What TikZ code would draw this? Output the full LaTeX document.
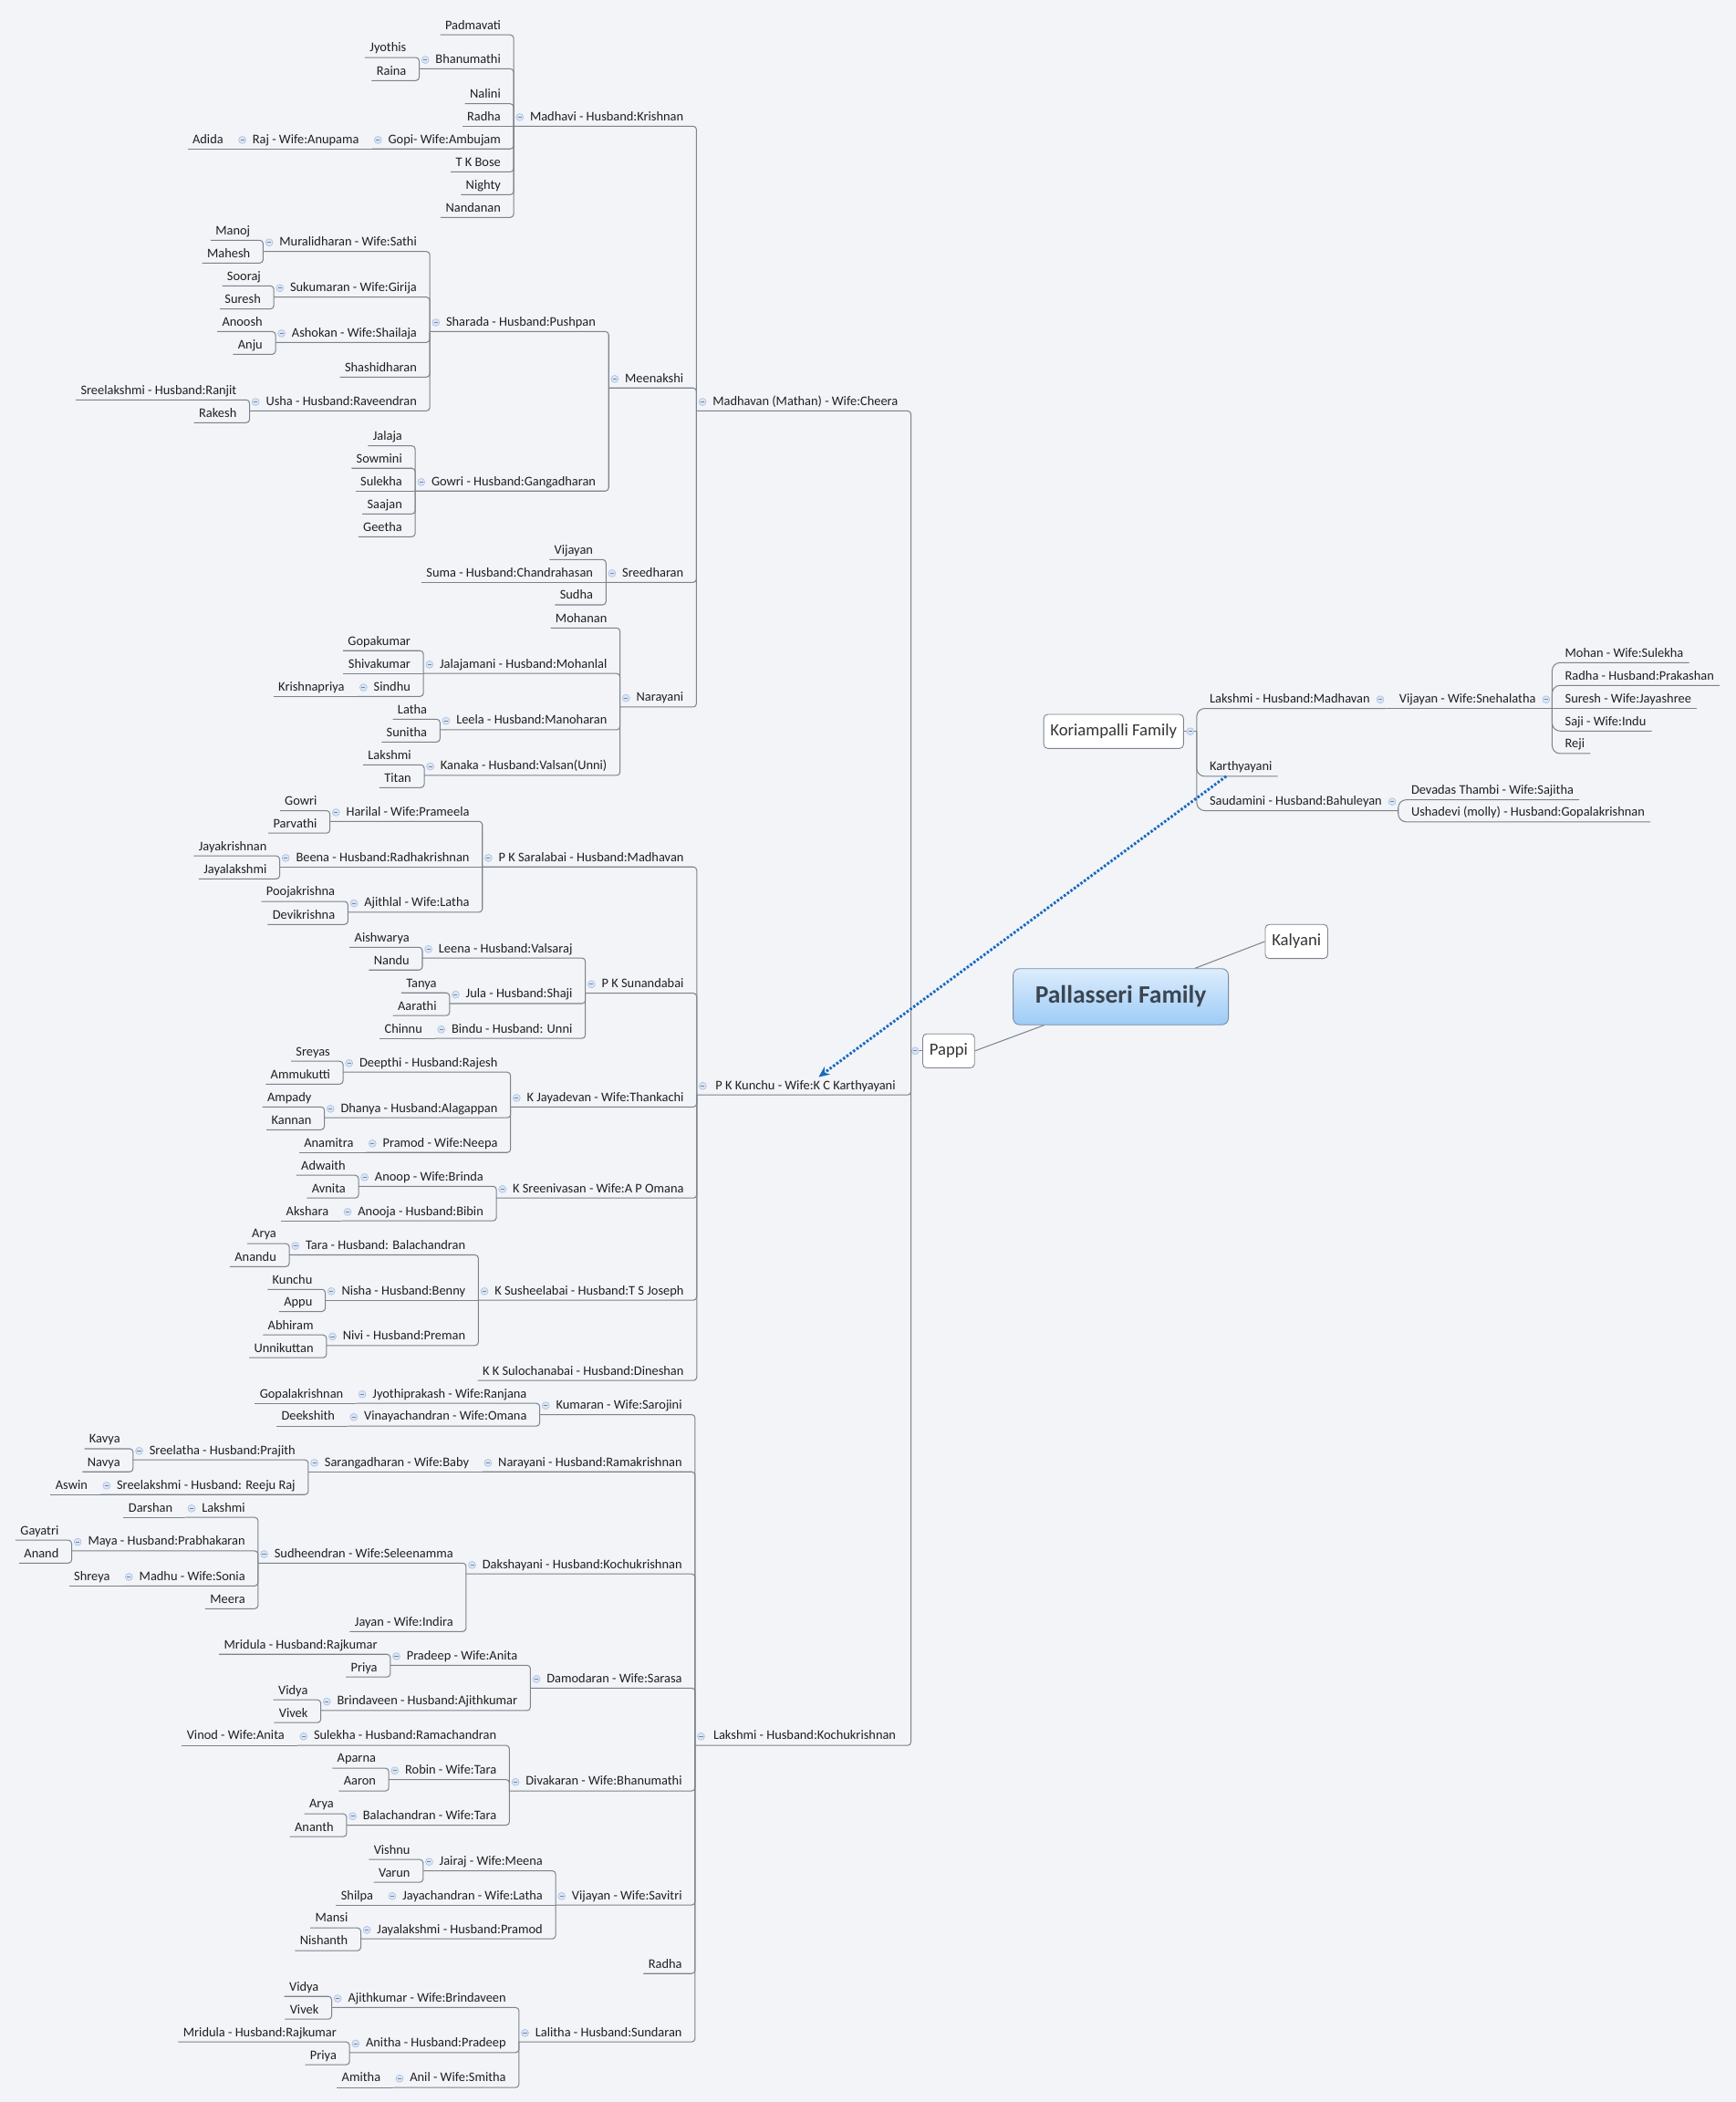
\documentclass[tikz,border=0pt]{standalone}
\usepackage{fontspec}
\setmainfont{Carlito}
\usetikzlibrary{arrows.meta}

\definecolor{bgc}{HTML}{F2F4F8}
\definecolor{ln}{HTML}{7D838A}
\definecolor{txt}{HTML}{1F1F1F}
\definecolor{togf}{HTML}{DAE5F5}
\definecolor{togd}{HTML}{A6BEE2}
\definecolor{relc}{HTML}{1769C2}
\definecolor{roottop}{HTML}{DDEDFD}
\definecolor{rootbot}{HTML}{9DCBF6}
\definecolor{rootdraw}{HTML}{7B8B9B}
\definecolor{roottext}{HTML}{3B4651}

\begin{document}
\begin{tikzpicture}[x=1pt, y=-1pt,
  link/.style={draw=ln, line width=0.7pt, rounded corners=2.5pt},
  rlink/.style={draw=ln, line width=0.7pt, rounded corners=6pt},
  spoke/.style={draw=ln, line width=0.7pt},
  toggle/.style={circle, draw=togd, fill=togf, line width=0.4pt, inner sep=0pt,
    minimum size=5.4pt, anchor=center, text height=0pt, text depth=0pt,
    execute at begin node={}, execute at end node={},
    path picture={\draw[togd!70!black, line width=0.5pt]
      ([xshift=-1.4pt]path picture bounding box.center) --
      ([xshift=1.4pt]path picture bounding box.center);}},
  lbl/.style={inner xsep=0pt, inner ysep=2pt, text height=7pt, text depth=2pt,
    font=\fontsize{9.8}{11}\selectfont, text=txt},
  lk/.style={lbl, anchor=south east,
    execute at begin node={\hspace{12pt}}, execute at end node={\hspace{9.5pt}},
    append after command={node[toggle] at ([xshift=4.5pt]\tikzlastnode.west) {}}},
  lf/.style={lbl, anchor=south east,
    execute at begin node={\hspace{3.5pt}}, execute at end node={\hspace{9.5pt}}},
  rk/.style={lbl, anchor=south west,
    execute at begin node={\hspace{9.5pt}}, execute at end node={\hspace{12pt}},
    append after command={node[toggle] at ([xshift=-4.5pt]\tikzlastnode.east) {}}},
  rf/.style={lbl, anchor=south west,
    execute at begin node={\hspace{9.5pt}}, execute at end node={\hspace{4pt}}},
  topic/.style={draw=ln, fill=white, line width=0.6pt, rounded corners=3pt,
    minimum height=25.4pt, inner xsep=5pt, font=\fontsize{12.7}{14}\selectfont, text=txt!90},
  root/.style={draw=rootdraw, line width=0.6pt, rounded corners=5pt,
    top color=roottop, bottom color=rootbot, minimum width=160.6pt, minimum height=41.9pt,
    font=\bfseries\fontsize{18.7}{20}\selectfont, text=roottext},
  rel/.style={draw=relc, line width=2pt, dash pattern=on 1.7pt off 1.4pt,
    -{Stealth[length=8pt, width=7pt, inset=2.5pt]}}]

  \path[use as bounding box, fill=bgc] (0,0) rectangle (1295,1568);

  % central topic
  \node[topic] (pappi) at (707.7,783.9) {Pappi};
  \node[topic] (kal) at (967.2,702.3) {Kalyani};
  \node[root] (root) at (836.1,743.5) {Pallasseri Family};
  \draw[spoke] (root) -- (pappi.east);
  \draw[spoke] (root) -- (kal.west);

  % Pappi
  \coordinate (pbar) at ([xshift=-8.5pt]pappi.west);
  \draw[link] (pbar) -- (pappi.west);
  \node[toggle] (ptog) at ([xshift=-5.3pt]pappi.west) {};

  \node[lk] (mdn) at (pbar |- 0,306.5) {Madhavan (Mathan) - Wife:Cheera};
  \draw[link] (mdn.south west) -- (mdn.south east) -- (pbar);
  \node[lk, minimum width=159.4pt] (kun) at (pbar |- 0,816.8) {P K Kunchu - Wife:K C Karthyayani};
  \draw[link] (kun.south west) -- (kun.south east) -- (pbar);
  \node[lk, minimum width=160.7pt] (lkk) at (pbar |- 0,1302) {Lakshmi - Husband:Kochukrishnan};
  \draw[link] (lkk.south west) -- (lkk.south east) -- (pbar);

  % Madhavan
  \node[lk] (mdv) at (mdn.south west |- 0,94.1) {Madhavi - Husband:Krishnan};
  \draw[link] (mdv.south west) -- (mdv.south east) -- (mdn.south west);
  \node[lf] (pad) at (mdv.south west |- 0,26) {Padmavati};
  \draw[link] (pad.south west) -- (pad.south east) -- (mdv.south west);
  \node[lk] (bhn) at (mdv.south west |- 0,51.3) {Bhanumathi};
  \draw[link] (bhn.south west) -- (bhn.south east) -- (mdv.south west);
  \node[lf] (jyo) at (bhn.south west |- 0,42.9) {Jyothis};
  \draw[link] (jyo.south west) -- (jyo.south east) -- (bhn.south west);
  \node[lf] (rai) at (bhn.south west |- 0,60.1) {Raina};
  \draw[link] (rai.south west) -- (rai.south east) -- (bhn.south west);
  \node[lf] (nal) at (mdv.south west |- 0,77.4) {Nalini};
  \draw[link] (nal.south west) -- (nal.south east) -- (mdv.south west);
  \node[lf] (rad) at (mdv.south west) {Radha};
  \draw[link] (rad.south west) -- (mdv.south west);
  \node[lk] (gop) at (mdv.south west |- 0,111.1) {Gopi- Wife:Ambujam};
  \draw[link] (gop.south west) -- (gop.south east) -- (mdv.south west);
  \node[lk] (raj) at (gop.south west) {Raj - Wife:Anupama};
  \draw[link] (raj.south west) -- (gop.south west);
  \node[lf] (adi) at (raj.south west) {Adida};
  \draw[link] (adi.south west) -- (raj.south west);
  \node[lf] (tkb) at (mdv.south west |- 0,128.2) {T K Bose};
  \draw[link] (tkb.south west) -- (tkb.south east) -- (mdv.south west);
  \node[lf] (nig) at (mdv.south west |- 0,145.2) {Nighty};
  \draw[link] (nig.south west) -- (nig.south east) -- (mdv.south west);
  \node[lf] (nan) at (mdv.south west |- 0,162.2) {Nandanan};
  \draw[link] (nan.south west) -- (nan.south east) -- (mdv.south west);

  \node[lk] (mee) at (mdn.south west |- 0,289.4) {Meenakshi};
  \draw[link] (mee.south west) -- (mee.south east) -- (mdn.south west);
  \node[lk] (sha) at (mee.south west |- 0,247.3) {Sharada - Husband:Pushpan};
  \draw[link] (sha.south west) -- (sha.south east) -- (mee.south west);
  \node[lk] (mur) at (sha.south west |- 0,187.6) {Muralidharan - Wife:Sathi};
  \draw[link] (mur.south west) -- (mur.south east) -- (sha.south west);
  \node[lf] (mno) at (mur.south west |- 0,179.2) {Manoj};
  \draw[link] (mno.south west) -- (mno.south east) -- (mur.south west);
  \node[lf] (mhs) at (mur.south west |- 0,196.2) {Mahesh};
  \draw[link] (mhs.south west) -- (mhs.south east) -- (mur.south west);
  \node[lk] (suk) at (sha.south west |- 0,221.6) {Sukumaran - Wife:Girija};
  \draw[link] (suk.south west) -- (suk.south east) -- (sha.south west);
  \node[lf] (soo) at (suk.south west |- 0,213.2) {Sooraj};
  \draw[link] (soo.south west) -- (soo.south east) -- (suk.south west);
  \node[lf] (sur) at (suk.south west |- 0,230.5) {Suresh};
  \draw[link] (sur.south west) -- (sur.south east) -- (suk.south west);
  \node[lk] (ask) at (sha.south west |- 0,255.4) {Ashokan - Wife:Shailaja};
  \draw[link] (ask.south west) -- (ask.south east) -- (sha.south west);
  \node[lf] (ano) at (ask.south west |- 0,247.3) {Anoosh};
  \draw[link] (ano.south west) -- (ano.south east) -- (ask.south west);
  \node[lf] (anj) at (ask.south west |- 0,264.3) {Anju};
  \draw[link] (anj.south west) -- (anj.south east) -- (ask.south west);
  \node[lf] (shd) at (sha.south west |- 0,281.3) {Shashidharan};
  \draw[link] (shd.south west) -- (shd.south east) -- (sha.south west);
  \node[lk] (ush) at (sha.south west |- 0,306.5) {Usha - Husband:Raveendran};
  \draw[link] (ush.south west) -- (ush.south east) -- (sha.south west);
  \node[lf] (srl) at (ush.south west |- 0,298.3) {Sreelakshmi - Husband:Ranjit};
  \draw[link] (srl.south west) -- (srl.south east) -- (ush.south west);
  \node[lf] (rak) at (ush.south west |- 0,315.3) {Rakesh};
  \draw[link] (rak.south west) -- (rak.south east) -- (ush.south west);
  \node[lk] (gow) at (mee.south west |- 0,366.3) {Gowri - Husband:Gangadharan};
  \draw[link] (gow.south west) -- (gow.south east) -- (mee.south west);
  \node[lf] (jal) at (gow.south west |- 0,332.5) {Jalaja};
  \draw[link] (jal.south west) -- (jal.south east) -- (gow.south west);
  \node[lf] (sow) at (gow.south west |- 0,349.3) {Sowmini};
  \draw[link] (sow.south west) -- (sow.south east) -- (gow.south west);
  \node[lf] (sul) at (gow.south west) {Sulekha};
  \draw[link] (sul.south west) -- (gow.south west);
  \node[lf] (saa) at (gow.south west |- 0,383.4) {Saajan};
  \draw[link] (saa.south west) -- (saa.south east) -- (gow.south west);
  \node[lf] (gee) at (gow.south west |- 0,400.4) {Geetha};
  \draw[link] (gee.south west) -- (gee.south east) -- (gow.south west);

  \node[lk] (sre) at (mdn.south west |- 0,434.4) {Sreedharan};
  \draw[link] (sre.south west) -- (sre.south east) -- (mdn.south west);
  \node[lf] (vij) at (sre.south west |- 0,417.4) {Vijayan};
  \draw[link] (vij.south west) -- (vij.south east) -- (sre.south west);
  \node[lf] (sum) at (sre.south west) {Suma - Husband:Chandrahasan};
  \draw[link] (sum.south west) -- (sre.south west);
  \node[lf] (sud) at (sre.south west |- 0,451.2) {Sudha};
  \draw[link] (sud.south west) -- (sud.south east) -- (sre.south west);

  \node[lk] (nar) at (mdn.south west |- 0,527.4) {Narayani};
  \draw[link] (nar.south west) -- (nar.south east) -- (mdn.south west);
  \node[lf] (moh) at (nar.south west |- 0,468.4) {Mohanan};
  \draw[link] (moh.south west) -- (moh.south east) -- (nar.south west);
  \node[lk] (jjm) at (nar.south west |- 0,502.4) {Jalajamani - Husband:Mohanlal};
  \draw[link] (jjm.south west) -- (jjm.south east) -- (nar.south west);
  \node[lf] (gku) at (jjm.south west |- 0,485.4) {Gopakumar};
  \draw[link] (gku.south west) -- (gku.south east) -- (jjm.south west);
  \node[lf] (shv) at (jjm.south west) {Shivakumar};
  \draw[link] (shv.south west) -- (jjm.south west);
  \node[lk] (sdu) at (jjm.south west |- 0,519.5) {Sindhu};
  \draw[link] (sdu.south west) -- (sdu.south east) -- (jjm.south west);
  \node[lf] (kri) at (sdu.south west) {Krishnapriya};
  \draw[link] (kri.south west) -- (sdu.south west);
  \node[lk] (lee) at (nar.south west |- 0,544.4) {Leela - Husband:Manoharan};
  \draw[link] (lee.south west) -- (lee.south east) -- (nar.south west);
  \node[lf] (lat) at (lee.south west |- 0,536.5) {Latha};
  \draw[link] (lat.south west) -- (lat.south east) -- (lee.south west);
  \node[lf] (sun) at (lee.south west |- 0,553.5) {Sunitha};
  \draw[link] (sun.south west) -- (sun.south east) -- (lee.south west);
  \node[lk] (kan) at (nar.south west |- 0,578.4) {Kanaka - Husband:Valsan(Unni)};
  \draw[link] (kan.south west) -- (kan.south east) -- (nar.south west);
  \node[lf] (lks) at (kan.south west |- 0,570.5) {Lakshmi};
  \draw[link] (lks.south west) -- (lks.south east) -- (kan.south west);
  \node[lf] (tit) at (kan.south west |- 0,587.5) {Titan};
  \draw[link] (tit.south west) -- (tit.south east) -- (kan.south west);

  % P K Kunchu
  \node[lk] (sar) at (kun.south west |- 0,646.7) {P K Saralabai - Husband:Madhavan};
  \draw[link] (sar.south west) -- (sar.south east) -- (kun.south west);
  \node[lk] (har) at (sar.south west |- 0,612.7) {Harilal - Wife:Prameela};
  \draw[link] (har.south west) -- (har.south east) -- (sar.south west);
  \node[lf] (gwr) at (har.south west |- 0,604.7) {Gowri};
  \draw[link] (gwr.south west) -- (gwr.south east) -- (har.south west);
  \node[lf] (prv) at (har.south west |- 0,621.5) {Parvathi};
  \draw[link] (prv.south west) -- (prv.south east) -- (har.south west);
  \node[lk] (bee) at (sar.south west) {Beena - Husband:Radhakrishnan};
  \draw[link] (bee.south west) -- (sar.south west);
  \node[lf] (jkr) at (bee.south west |- 0,638.5) {Jayakrishnan};
  \draw[link] (jkr.south west) -- (jkr.south east) -- (bee.south west);
  \node[lf] (jyl) at (bee.south west |- 0,655.6) {Jayalakshmi};
  \draw[link] (jyl.south west) -- (jyl.south east) -- (bee.south west);
  \node[lk] (ajl) at (sar.south west |- 0,680.5) {Ajithlal - Wife:Latha};
  \draw[link] (ajl.south west) -- (ajl.south east) -- (sar.south west);
  \node[lf] (poo) at (ajl.south west |- 0,672.4) {Poojakrishna};
  \draw[link] (poo.south west) -- (poo.south east) -- (ajl.south west);
  \node[lf] (dvk) at (ajl.south west |- 0,689.6) {Devikrishna};
  \draw[link] (dvk.south west) -- (dvk.south east) -- (ajl.south west);

  \node[lk] (snd) at (kun.south west |- 0,740.9) {P K Sunandabai};
  \draw[link] (snd.south west) -- (snd.south east) -- (kun.south west);
  \node[lk] (len) at (snd.south west |- 0,714.7) {Leena - Husband:Valsaraj};
  \draw[link] (len.south west) -- (len.south east) -- (snd.south west);
  \node[lf] (ais) at (len.south west |- 0,706.6) {Aishwarya};
  \draw[link] (ais.south west) -- (ais.south east) -- (len.south west);
  \node[lf] (nnd) at (len.south west |- 0,723.6) {Nandu};
  \draw[link] (nnd.south west) -- (nnd.south east) -- (len.south west);
  \node[lk] (jul) at (snd.south west |- 0,748.6) {Jula - Husband:Shaji};
  \draw[link] (jul.south west) -- (jul.south east) -- (snd.south west);
  \node[lf] (tan) at (jul.south west |- 0,740.6) {Tanya};
  \draw[link] (tan.south west) -- (tan.south east) -- (jul.south west);
  \node[lf] (aar) at (jul.south west |- 0,757.6) {Aarathi};
  \draw[link] (aar.south west) -- (aar.south east) -- (jul.south west);
  \node[lk] (bin) at (snd.south west |- 0,774.6) {Bindu - Husband: Unni};
  \draw[link] (bin.south west) -- (bin.south east) -- (snd.south west);
  \node[lf] (chi) at (bin.south west) {Chinnu};
  \draw[link] (chi.south west) -- (bin.south west);

  \node[lk] (jay) at (kun.south west |- 0,825.7) {K Jayadevan - Wife:Thankachi};
  \draw[link] (jay.south west) -- (jay.south east) -- (kun.south west);
  \node[lk] (dee) at (jay.south west |- 0,799.8) {Deepthi - Husband:Rajesh};
  \draw[link] (dee.south west) -- (dee.south east) -- (jay.south west);
  \node[lf] (srs) at (dee.south west |- 0,791.6) {Sreyas};
  \draw[link] (srs.south west) -- (srs.south east) -- (dee.south west);
  \node[lf] (amk) at (dee.south west |- 0,808.7) {Ammukutti};
  \draw[link] (amk.south west) -- (amk.south east) -- (dee.south west);
  \node[lk] (dha) at (jay.south west |- 0,833.8) {Dhanya - Husband:Alagappan};
  \draw[link] (dha.south west) -- (dha.south east) -- (jay.south west);
  \node[lf] (amp) at (dha.south west |- 0,825.7) {Ampady};
  \draw[link] (amp.south west) -- (amp.south east) -- (dha.south west);
  \node[lf] (knn) at (dha.south west |- 0,842.7) {Kannan};
  \draw[link] (knn.south west) -- (knn.south east) -- (dha.south west);
  \node[lk] (prm) at (jay.south west |- 0,859.7) {Pramod - Wife:Neepa};
  \draw[link] (prm.south west) -- (prm.south east) -- (jay.south west);
  \node[lf] (anm) at (prm.south west) {Anamitra};
  \draw[link] (anm.south west) -- (prm.south west);

  \node[lk] (sri) at (kun.south west |- 0,893.7) {K Sreenivasan - Wife:A P Omana};
  \draw[link] (sri.south west) -- (sri.south east) -- (kun.south west);
  \node[lk] (anp) at (sri.south west |- 0,884.9) {Anoop - Wife:Brinda};
  \draw[link] (anp.south west) -- (anp.south east) -- (sri.south west);
  \node[lf] (adw) at (anp.south west |- 0,876.7) {Adwaith};
  \draw[link] (adw.south west) -- (adw.south east) -- (anp.south west);
  \node[lf] (avn) at (anp.south west |- 0,893.7) {Avnita};
  \draw[link] (avn.south west) -- (avn.south east) -- (anp.south west);
  \node[lk] (anq) at (sri.south west |- 0,910.7) {Anooja - Husband:Bibin};
  \draw[link] (anq.south west) -- (anq.south east) -- (sri.south west);
  \node[lf] (aks) at (anq.south west) {Akshara};
  \draw[link] (aks.south west) -- (anq.south west);

  \node[lk] (sus) at (kun.south west |- 0,969.9) {K Susheelabai - Husband:T S Joseph};
  \draw[link] (sus.south west) -- (sus.south east) -- (kun.south west);
  \node[lk] (tar) at (sus.south west |- 0,936.1) {Tara - Husband: Balachandran};
  \draw[link] (tar.south west) -- (tar.south east) -- (sus.south west);
  \node[lf] (ary) at (tar.south west |- 0,927.7) {Arya};
  \draw[link] (ary.south west) -- (ary.south east) -- (tar.south west);
  \node[lf] (anu) at (tar.south west |- 0,944.8) {Anandu};
  \draw[link] (anu.south west) -- (anu.south east) -- (tar.south west);
  \node[lk] (nis) at (sus.south west) {Nisha - Husband:Benny};
  \draw[link] (nis.south west) -- (sus.south west);
  \node[lf] (kch) at (nis.south west |- 0,961.8) {Kunchu};
  \draw[link] (kch.south west) -- (kch.south east) -- (nis.south west);
  \node[lf] (app) at (nis.south west |- 0,978.3) {Appu};
  \draw[link] (app.south west) -- (app.south east) -- (nis.south west);
  \node[lk] (niv) at (sus.south west |- 0,1003.7) {Nivi - Husband:Preman};
  \draw[link] (niv.south west) -- (niv.south east) -- (sus.south west);
  \node[lf] (abh) at (niv.south west |- 0,995.8) {Abhiram};
  \draw[link] (abh.south west) -- (abh.south east) -- (niv.south west);
  \node[lf] (unk) at (niv.south west |- 0,1012.8) {Unnikuttan};
  \draw[link] (unk.south west) -- (unk.south east) -- (niv.south west);

  \node[lf] (skk) at (kun.south west |- 0,1029.8) {K K Sulochanabai - Husband:Dineshan};
  \draw[link] (skk.south west) -- (skk.south east) -- (kun.south west);

  % Lakshmi - Kochukrishnan
  \node[lk] (kum) at (lkk.south west |- 0,1055.2) {Kumaran - Wife:Sarojini};
  \draw[link] (kum.south west) -- (kum.south east) -- (lkk.south west);
  \node[lk] (jyp) at (kum.south west |- 0,1046.8) {Jyothiprakash - Wife:Ranjana};
  \draw[link] (jyp.south west) -- (jyp.south east) -- (kum.south west);
  \node[lf] (gpk) at (jyp.south west) {Gopalakrishnan};
  \draw[link] (gpk.south west) -- (jyp.south west);
  \node[lk] (vin) at (kum.south west |- 0,1063.8) {Vinayachandran - Wife:Omana};
  \draw[link] (vin.south west) -- (vin.south east) -- (kum.south west);
  \node[lf] (dek) at (vin.south west) {Deekshith};
  \draw[link] (dek.south west) -- (vin.south west);

  \node[lk] (nrm) at (lkk.south west |- 0,1097.9) {Narayani - Husband:Ramakrishnan};
  \draw[link] (nrm.south west) -- (nrm.south east) -- (lkk.south west);
  \node[lk] (srg) at (nrm.south west) {Sarangadharan - Wife:Baby};
  \draw[link] (srg.south west) -- (nrm.south west);
  \node[lk] (slt) at (srg.south west |- 0,1089) {Sreelatha - Husband:Prajith};
  \draw[link] (slt.south west) -- (slt.south east) -- (srg.south west);
  \node[lf] (kav) at (slt.south west |- 0,1080.7) {Kavya};
  \draw[link] (kav.south west) -- (kav.south east) -- (slt.south west);
  \node[lf] (nav) at (slt.south west |- 0,1097.9) {Navya};
  \draw[link] (nav.south west) -- (nav.south east) -- (slt.south west);
  \node[lk] (slk) at (srg.south west |- 0,1114.9) {Sreelakshmi - Husband: Reeju Raj};
  \draw[link] (slk.south west) -- (slk.south east) -- (srg.south west);
  \node[lf] (asw) at (slk.south west) {Aswin};
  \draw[link] (asw.south west) -- (slk.south west);

  \node[lk] (dak) at (lkk.south west |- 0,1174.1) {Dakshayani - Husband:Kochukrishnan};
  \draw[link] (dak.south west) -- (dak.south east) -- (lkk.south west);
  \node[lk] (sdh) at (dak.south west |- 0,1166) {Sudheendran - Wife:Seleenamma};
  \draw[link] (sdh.south west) -- (sdh.south east) -- (dak.south west);
  \node[lk] (lak) at (sdh.south west |- 0,1131.9) {Lakshmi};
  \draw[link] (lak.south west) -- (lak.south east) -- (sdh.south west);
  \node[lf] (dar) at (lak.south west) {Darshan};
  \draw[link] (dar.south west) -- (lak.south west);
  \node[lk] (may) at (sdh.south west |- 0,1156.9) {Maya - Husband:Prabhakaran};
  \draw[link] (may.south west) -- (may.south east) -- (sdh.south west);
  \node[lf] (gay) at (may.south west |- 0,1148.9) {Gayatri};
  \draw[link] (gay.south west) -- (gay.south east) -- (may.south west);
  \node[lf] (anad) at (may.south west |- 0,1166) {Anand};
  \draw[link] (anad.south west) -- (anad.south east) -- (may.south west);
  \node[lk] (mad) at (sdh.south west |- 0,1183) {Madhu - Wife:Sonia};
  \draw[link] (mad.south west) -- (mad.south east) -- (sdh.south west);
  \node[lf] (shr) at (mad.south west) {Shreya};
  \draw[link] (shr.south west) -- (mad.south west);
  \node[lf] (mer) at (sdh.south west |- 0,1200) {Meera};
  \draw[link] (mer.south west) -- (mer.south east) -- (sdh.south west);
  \node[lf] (jyn) at (dak.south west |- 0,1217) {Jayan - Wife:Indira};
  \draw[link] (jyn.south west) -- (jyn.south east) -- (dak.south west);

  \node[lk] (dam) at (lkk.south west |- 0,1259.2) {Damodaran - Wife:Sarasa};
  \draw[link] (dam.south west) -- (dam.south east) -- (lkk.south west);
  \node[lk] (prd) at (dam.south west |- 0,1242.2) {Pradeep - Wife:Anita};
  \draw[link] (prd.south west) -- (prd.south east) -- (dam.south west);
  \node[lf] (mri) at (prd.south west |- 0,1234) {Mridula - Husband:Rajkumar};
  \draw[link] (mri.south west) -- (mri.south east) -- (prd.south west);
  \node[lf] (pri) at (prd.south west |- 0,1251) {Priya};
  \draw[link] (pri.south west) -- (pri.south east) -- (prd.south west);
  \node[lk] (brn) at (dam.south west |- 0,1276) {Brindaveen - Husband:Ajithkumar};
  \draw[link] (brn.south west) -- (brn.south east) -- (dam.south west);
  \node[lf] (vid) at (brn.south west |- 0,1268) {Vidya};
  \draw[link] (vid.south west) -- (vid.south east) -- (brn.south west);
  \node[lf] (viv) at (brn.south west |- 0,1285) {Vivek};
  \draw[link] (viv.south west) -- (viv.south east) -- (brn.south west);

  \node[lk] (dvr) at (lkk.south west |- 0,1336) {Divakaran - Wife:Bhanumathi};
  \draw[link] (dvr.south west) -- (dvr.south east) -- (lkk.south west);
  \node[lk] (slh) at (dvr.south west |- 0,1302) {Sulekha - Husband:Ramachandran};
  \draw[link] (slh.south west) -- (slh.south east) -- (dvr.south west);
  \node[lf] (vnd) at (slh.south west) {Vinod - Wife:Anita};
  \draw[link] (vnd.south west) -- (slh.south west);
  \node[lk] (rob) at (dvr.south west |- 0,1327.5) {Robin - Wife:Tara};
  \draw[link] (rob.south west) -- (rob.south east) -- (dvr.south west);
  \node[lf] (apa) at (rob.south west |- 0,1319) {Aparna};
  \draw[link] (apa.south west) -- (apa.south east) -- (rob.south west);
  \node[lf] (aan) at (rob.south west |- 0,1336) {Aaron};
  \draw[link] (aan.south west) -- (aan.south east) -- (rob.south west);
  \node[lk] (bal) at (dvr.south west |- 0,1361.5) {Balachandran - Wife:Tara};
  \draw[link] (bal.south west) -- (bal.south east) -- (dvr.south west);
  \node[lf] (arb) at (bal.south west |- 0,1353) {Arya};
  \draw[link] (arb.south west) -- (arb.south east) -- (bal.south west);
  \node[lf] (anh) at (bal.south west |- 0,1370.1) {Ananth};
  \draw[link] (anh.south west) -- (anh.south east) -- (bal.south west);

  \node[lk] (vjs) at (lkk.south west |- 0,1421.1) {Vijayan - Wife:Savitri};
  \draw[link] (vjs.south west) -- (vjs.south east) -- (lkk.south west);
  \node[lk] (jai) at (vjs.south west |- 0,1395.5) {Jairaj - Wife:Meena};
  \draw[link] (jai.south west) -- (jai.south east) -- (vjs.south west);
  \node[lf] (vis) at (jai.south west |- 0,1387.1) {Vishnu};
  \draw[link] (vis.south west) -- (vis.south east) -- (jai.south west);
  \node[lf] (vrn) at (jai.south west |- 0,1404.1) {Varun};
  \draw[link] (vrn.south west) -- (vrn.south east) -- (jai.south west);
  \node[lk] (jch) at (vjs.south west) {Jayachandran - Wife:Latha};
  \draw[link] (jch.south west) -- (vjs.south west);
  \node[lf] (shl) at (jch.south west) {Shilpa};
  \draw[link] (shl.south west) -- (jch.south west);
  \node[lk] (jlk) at (vjs.south west |- 0,1446.3) {Jayalakshmi - Husband:Pramod};
  \draw[link] (jlk.south west) -- (jlk.south east) -- (vjs.south west);
  \node[lf] (mns) at (jlk.south west |- 0,1438.1) {Mansi};
  \draw[link] (mns.south west) -- (mns.south east) -- (jlk.south west);
  \node[lf] (nsh) at (jlk.south west |- 0,1455.1) {Nishanth};
  \draw[link] (nsh.south west) -- (nsh.south east) -- (jlk.south west);

  \node[lf] (rdh) at (lkk.south west |- 0,1472.2) {Radha};
  \draw[link] (rdh.south west) -- (rdh.south east) -- (lkk.south west);

  \node[lk] (lal) at (lkk.south west |- 0,1523.2) {Lalitha - Husband:Sundaran};
  \draw[link] (lal.south west) -- (lal.south east) -- (lkk.south west);
  \node[lk] (ajk) at (lal.south west |- 0,1497.5) {Ajithkumar - Wife:Brindaveen};
  \draw[link] (ajk.south west) -- (ajk.south east) -- (lal.south west);
  \node[lf] (vdb) at (ajk.south west |- 0,1489.2) {Vidya};
  \draw[link] (vdb.south west) -- (vdb.south east) -- (ajk.south west);
  \node[lf] (vvb) at (ajk.south west |- 0,1506.2) {Vivek};
  \draw[link] (vvb.south west) -- (vvb.south east) -- (ajk.south west);
  \node[lk] (ani) at (lal.south west |- 0,1531.1) {Anitha - Husband:Pradeep};
  \draw[link] (ani.south west) -- (ani.south east) -- (lal.south west);
  \node[lf] (mrb) at (ani.south west |- 0,1523.2) {Mridula - Husband:Rajkumar};
  \draw[link] (mrb.south west) -- (mrb.south east) -- (ani.south west);
  \node[lf] (prb) at (ani.south west |- 0,1540.2) {Priya};
  \draw[link] (prb.south west) -- (prb.south east) -- (ani.south west);
  \node[lk] (anl) at (lal.south west |- 0,1557.2) {Anil - Wife:Smitha};
  \draw[link] (anl.south west) -- (anl.south east) -- (lal.south west);
  \node[lf] (ami) at (anl.south west) {Amitha};
  \draw[link] (ami.south west) -- (anl.south west);

  % Koriampalli Family (floating)
  \node[topic] (kor) at (830.8,545.6) {Koriampalli Family};
  \coordinate (kfork) at ([xshift=9.5pt]kor.east);
  \draw[link] (kor.east) -- (kfork);
  \node[toggle] (ktog) at ([xshift=4.7pt]kor.east) {};

  \node[rk] (lkm) at (kfork |- 0,528.5) {Lakshmi - Husband:Madhavan};
  \draw[rlink] (kfork) |- (lkm.south east);
  \node[rk] (vjy) at (lkm.south east) {Vijayan - Wife:Snehalatha};
  \draw[rlink] (lkm.south east) -- (vjy.south east);
  \node[rf] (mhn) at (vjy.south east |- 0,494.3) {Mohan - Wife:Sulekha};
  \draw[rlink] (vjy.south east) |- (mhn.south east);
  \node[rf] (rdp) at (vjy.south east |- 0,511.3) {Radha - Husband:Prakashan};
  \draw[rlink] (vjy.south east) |- (rdp.south east);
  \node[rf] (sjy) at (vjy.south east) {Suresh - Wife:Jayashree};
  \draw[rlink] (vjy.south east) -- (sjy.south east);
  \node[rf] (saj) at (vjy.south east |- 0,545.3) {Saji - Wife:Indu};
  \draw[rlink] (vjy.south east) |- (saj.south east);
  \node[rf] (rej) at (vjy.south east |- 0,562.1) {Reji};
  \draw[rlink] (vjy.south east) |- (rej.south east);
  \node[rf] (kar) at (kfork |- 0,579.1) {Karthyayani};
  \draw[rlink] (kfork) |- (kar.south east);
  \node[rk] (sau) at (kfork |- 0,604.7) {Saudamini - Husband:Bahuleyan};
  \draw[rlink] (kfork) |- (sau.south east);
  \node[rf] (dvt) at (sau.south east |- 0,596.6) {Devadas Thambi - Wife:Sajitha};
  \draw[rlink] (sau.south east) |- (dvt.south east);
  \node[rf] (usd) at (sau.south east |- 0,613.1) {Ushadevi (molly) - Husband:Gopalakrishnan};
  \draw[rlink] (sau.south east) |- (usd.south east);

  % relationship
  \draw[rel] ([xshift=22pt]kar.south west) -- ([xshift=11pt]kun.north);
\end{tikzpicture}
\end{document}
